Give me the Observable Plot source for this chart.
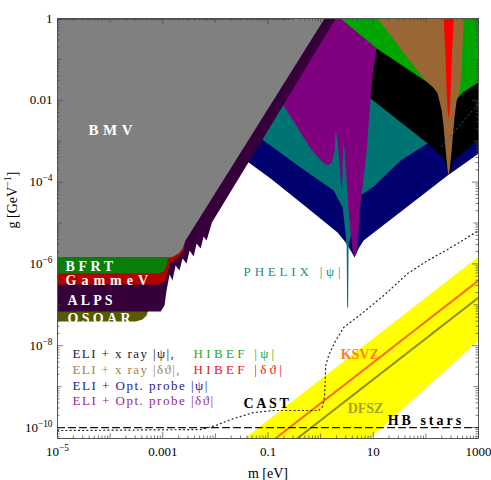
<!DOCTYPE html>
<html><head><meta charset="utf-8">
<script src="https://cdn.jsdelivr.net/npm/d3@7"></script>
<script src="https://cdn.jsdelivr.net/npm/@observablehq/plot@0.6"></script>
<style>body{margin:0;background:#fff}svg{display:block}</style>
</head><body>
<script>
// ---- exclusion regions: [m (eV), g (GeV^-1)] vertices ----
const bmv = [[1e-5,1],[1.19,1],[2.71e-3,3.73e-6],[2.38e-3,2.38e-6],[2.0e-3,1.80e-6],[1.53e-3,1.48e-6],[1e-5,1.48e-6]];
const bfrt = [[1e-5,1],[1.0,1],[2.48e-3,3.73e-6],[2.18e-3,2.25e-6],[1.67e-3,1.70e-6],[1.23e-3,1.28e-6],[1.18e-3,8.63e-7],[1.04e-3,6.52e-7],[8.32e-4,5.82e-7],[1e-5,5.82e-7]];
const gammev = [[1e-5,1],[1.0,1],[2.62e-3,3.6e-6],[2.52e-3,2.13e-6],[2.0e-3,1.43e-6],[1.41e-3,1.08e-6],[1.23e-3,6.17e-7],[1.08e-3,3.72e-7],[8.32e-4,3.13e-7],[1e-5,3.13e-7]];
const alps = [[1e-5,1],[1.95,1],[8.6e-3,1.03e-5],[6.81e-3,3.73e-6],[5.97e-3,4.68e-6],[5.24e-3,2.38e-6],[4.40e-3,3.15e-6],[3.86e-3,1.52e-6],[3.24e-3,2.13e-6],[2.83e-3,1.02e-6],[2.38e-3,1.36e-6],[2.08e-3,6.9e-7],[1.75e-3,9.1e-7],[1.53e-3,3.93e-7],[1.35e-3,5.5e-7],[1.18e-3,2.24e-7],[1.08e-3,9.6e-8],[9.1e-4,6.86e-8],[1e-5,6.86e-8]];
const osoar = [[1e-5,2.24e-7],[5.86e-4,2.24e-7],[5.37e-4,7.67e-8],[4.92e-4,5.47e-8],[4.13e-4,4.37e-8],[3.04e-4,3.91e-8],[1e-5,3.91e-8]];
const eliOptPsi = [[0.0359,3.57e-4],[0.112,1.22e-4],[0.417,3.17e-5],[2.10,5.86e-6],[2.99,3.33e-6],[3.72,2.13e-6],[4.43,1.43e-6],[5.27,2.38e-6],[6.56,3.73e-6],[259,1.45e-4],[1000,5.0e-4],[1000,1],[0.0359,1]];
const phelixPsi = [[0.0581,1.63e-3],[0.0824,1.04e-3],[0.417,2.28e-4],[1.77,6.23e-5],[2.62,2.39e-5],[2.86,8.69e-6],[3.12,2.82e-6],[3.19,8.59e-8],[3.33,8.59e-8],[3.40,2.82e-6],[3.72,4.95e-6],[4.24,1.03e-5],[4.83,2.02e-5],[5.75,4.70e-5],[10.2,7.80e-5],[33.2,3.37e-4],[108,8.79e-4],[1000,7.46e-3],[1000,1],[0.0581,1]];
const eliXrayPsi = [[1.55,0.0840],[8.93,0.0111],[108,8.79e-4],[218,3.78e-4],[259,1.92e-4],[271,1.53e-4],[296,1.92e-4],[338,3.37e-4],[1000,1.10e-3],[1000,1],[1.55,1]];
const eliOptDth = [[0.417,1],[2.51,1],[11.6,0.185],[9.75,0.0404],[8.93,0.0117],[7.50,5.93e-4],[6.28,8.26e-5],[5.51,2.02e-5],[5.27,5.86e-6],[4.83,2.13e-6],[4.43,1.43e-6],[4.06,2.13e-6],[3.72,5.86e-6],[3.40,2.02e-5],[3.12,1.09e-4],[2.86,5.93e-4],[2.74,1.04e-3],[2.62,2.55e-4],[2.51,4.20e-5],[2.30,2.55e-4],[2.10,1.04e-3],[1.93,1.83e-3],[1.85,5.93e-4],[1.62,3.01e-4],[1.36,2.55e-4],[1.09,3.01e-4],[0.646,6.64e-4],[0.198,7.46e-3],[0.112,7.46e-3]];
const hibefPsi = [[2.40,1],[11.6,0.185],[33.2,0.0750],[108,0.0272],[175,0.0155],[228,7.46e-3],[271,5.03e-3],[324,6.31e-3],[369,9.89e-3],[501,0.0155],[1000,0.0272],[1000,1]];
const hibefPsiTop = [[1e-5,1],[0.269,1],[0.269,0.92],[1e-5,0.92]];
const eliXrayDth = [[12.1,1],[21.4,0.384],[41.3,0.125],[72.9,0.0478],[108,0.0272],[135,0.0217],[167,0.0147],[200,5.64e-3],[218,2.16e-3],[238,5.93e-4],[259,1.92e-4],[271,1.45e-4],[283,1.92e-4],[309,5.93e-4],[324,1.23e-3],[353,4.25e-3],[385,9.89e-3],[440,0.0174],[480,0.0535],[501,0.290],[524,1]];
const hibefDth = [[218,1],[238,0.094],[248,0.0174],[259,5.64e-3],[271,3.6e-3],[283,5.64e-3],[296,0.0174],[309,0.094],[338,1]];
const phelixTrace = [[200,7.42e-4],[1000,8.35e-3]];
// ---- limits and models ----
const cast = [[1e-5,8.45e-11],[5.24e-3,8.93e-11],[0.0101,1.12e-10],[0.0222,1.66e-10],[0.0532,2.33e-10],[0.128,2.61e-10],[0.916,2.61e-10],[1.09,3.26e-10],[1.19,6.05e-10],[1.25,3.28e-9],[1.42,5.75e-9],[1.85,1.20e-8],[2.74,2.79e-8],[5.75,5.79e-8],[15.8,1.69e-7],[45.1,5.82e-7],[108,1.21e-6],[259,2.25e-6],[571,4.18e-6],[1000,6.56e-6]];
const hbStars = [[1e-5,1e-10],[1000,1e-10]];
const ksvz = [[0.01,3.9e-12],[1000,3.9e-7]];
const dfsz = [[0.01,1.5e-12],[1000,1.5e-7]];
const axionBand = [[0.01,1.51e-11],[1000,1.51e-6],[1000,1.34e-8],[8.55,5.4e-11],[3.16,1.7e-11]];
// ---- ticks ----
const xMajor = [1e-5,1e-3,1e-1,10,1000];
const xMajorLabels = ["10^-5","0.001","0.1","10","1000"];
const yMajor = [1,1e-2,1e-4,1e-6,1e-8,1e-10];
const yMajorLabels = ["1","0.01","10^-4","10^-6","10^-8","10^-10"];
const xMid = [1e-4,1e-2,1,100];
const yMid = [0.1,1e-3,1e-5,1e-7,1e-9];
// ---- labels ----
const labels = [
  {t:"BMV", m:3.88e-5, g:1.83e-3, c:"#ffffff", s:15, w:"bold", ls:4.5},
  {t:"BFRT", m:1.42e-5, g:8.63e-7, c:"#ffffff", s:14, w:"bold", ls:3.6},
  {t:"GammeV", m:1.42e-5, g:3.93e-7, c:"#ffffff", s:14, w:"bold", ls:5},
  {t:"ALPS", m:1.55e-5, g:1.27e-7, c:"#ffffff", s:14, w:"bold", ls:3.1},
  {t:"OSOAR", m:1.55e-5, g:4.62e-8, c:"#ffffff", s:14, w:"bold", ls:3.3},
  {t:"ELI + x ray |ψ|,", m:1.93e-5, g:6.44e-9, c:"#222222", s:13, w:"normal", ls:1.4},
  {t:"ELI + x ray |δϑ|,", m:1.93e-5, g:2.62e-9, c:"#a57e55", s:13, w:"normal", ls:1.4},
  {t:"ELI + Opt. probe |ψ|", m:1.93e-5, g:1.06e-9, c:"#1c1c8e", s:13, w:"normal", ls:1.5},
  {t:"ELI + Opt. probe |δϑ|", m:1.93e-5, g:4.57e-10, c:"#962896", s:13, w:"normal", ls:1.5},
  {t:"HIBEF |ψ|", m:3.86e-3, g:6.44e-9, c:"#22aa22", s:13, w:"normal", ls:3.3},
  {t:"HIBEF |δϑ|", m:3.86e-3, g:2.62e-9, c:"#ee1111", s:13, w:"normal", ls:3.3},
  {t:"PHELIX |ψ|", m:0.0344, g:6.52e-7, c:"#2a8a8a", s:13, w:"normal", ls:3.8},
  {t:"CAST", m:0.0344, g:3.97e-10, c:"#000000", s:14, w:"bold", ls:2.6},
  {t:"HB stars", m:18.8, g:1.48e-10, c:"#000000", s:14, w:"bold", ls:3},
  {t:"KSVZ", m:2.40, g:6.1e-9, c:"#ff8020", s:14, w:"bold", ls:0},
  {t:"DFSZ", m:3.26, g:3.0e-10, c:"#a3a332", s:14, w:"bold", ls:0}
];

const X0 = 1e-5, X1 = 1000, Y0 = 5.4e-11, Y1 = 1;
const region = (pts, color) => Plot.line(pts, {x: d => d[0], y: d => d[1], fill: color, stroke: "none", curve: "linear", clip: true});
const minors = (lo, hi) => { const o = []; for (let e = Math.floor(Math.log10(lo)); e <= Math.ceil(Math.log10(hi)); e++) for (let k = 2; k <= 9; k++) { const v = k * 10 ** e; if (v > lo * 1.0001 && v < hi / 1.0001) o.push(v); } return o; };
const fy = len => 10 ** (len / 40.9), fx = len => 10 ** (len / 52.6);
const tickStyle = {stroke: "#444", strokeWidth: 0.7};
const xT = (vals, len) => [
  Plot.ruleX(vals, {x: d => d, y1: () => Y0, y2: () => Y0 * fy(len), ...tickStyle}),
  Plot.ruleX(vals, {x: d => d, y1: () => Y1, y2: () => Y1 / fy(len), ...tickStyle})];
const yT = (vals, len) => [
  Plot.ruleY(vals, {y: d => d, x1: () => X0, x2: () => X0 * fx(len), ...tickStyle}),
  Plot.ruleY(vals, {y: d => d, x1: () => X1, x2: () => X1 / fx(len), ...tickStyle})];
const lab = (vals, labs) => d => labs[vals.findIndex(v => Math.abs(Math.log10(v) - Math.log10(d)) < 1e-6)];

const chart = Plot.plot({
  width: 491, height: 480,
  marginLeft: 57, marginRight: 13, marginTop: 18, marginBottom: 42,
  style: {fontFamily: "'Liberation Serif','Times New Roman',serif", fontSize: "13px", background: "#fff"},
  x: {type: "log", domain: [X0, X1]},
  y: {type: "log", domain: [Y0, Y1]},
  marks: [
    region(axionBand, "#ffff00"),
    region(eliOptPsi, "#00006e"),
    region(phelixPsi, "#007373"),
    region(eliXrayPsi, "#000000"),
    region(eliOptDth, "#800080"),
    region(hibefPsi, "#00a600"),
    region(eliXrayDth, "#9a6633"),
    region(hibefDth, "#ff0000"),
    region(osoar, "#595900"),
    region(alps, "#36003a"),
    region(gammev, "#b40000"),
    region(bfrt, "#0a7d0a"),
    region(bmv, "#808080"),
    region(hibefPsiTop, "#1f7a1f"),
    Plot.line(phelixTrace, {x: d => d[0], y: d => d[1], stroke: "#0a6a6a", strokeWidth: 1, strokeDasharray: "1.5,3", clip: true}),
    Plot.line(ksvz, {x: d => d[0], y: d => d[1], stroke: "#ff6a1a", strokeWidth: 2, clip: true}),
    Plot.line(dfsz, {x: d => d[0], y: d => d[1], stroke: "#8f8f1e", strokeWidth: 2, clip: true}),
    Plot.line(cast, {x: d => d[0], y: d => d[1], stroke: "#222", strokeWidth: 1.2, strokeDasharray: "1,3.2", strokeLinecap: "round", clip: true}),
    Plot.line(hbStars, {x: d => d[0], y: d => d[1], stroke: "#111", strokeWidth: 1.2, strokeDasharray: "7,4", clip: true}),
    ...labels.map(l => Plot.text([l], {x: "m", y: "g", text: "t", fill: l.c, fontSize: l.s, fontWeight: l.w, textAnchor: "start", lineAnchor: "middle"})),
    Plot.frame({stroke: "#555", strokeWidth: 1}),
    ...xT(xMajor, 6), ...xT(xMid, 4.5), ...xT(minors(X0, X1), 2.5),
    ...yT(yMajor, 6), ...yT(yMid, 4.5), ...yT(minors(Y0, Y1), 2.5),
    Plot.axisX(xMajor, {tickSize: 0, tickPadding: 8, fontSize: 13, tickFormat: lab(xMajor, xMajorLabels), label: null}),
    Plot.axisY(yMajor, {tickSize: 0, tickPadding: 5, fontSize: 13, tickFormat: lab(yMajor, yMajorLabels), label: null}),
    Plot.text(["m [eV]"], {frameAnchor: "bottom", dy: 35, text: d => d, fontSize: 14, lineAnchor: "middle"}),
    Plot.text(["g [GeV^-1]"], {frameAnchor: "left", dx: -45, rotate: -90, text: d => d, fontSize: 14, lineAnchor: "middle"})
  ]
});

// superscripts and letter spacing
const NS = "http://www.w3.org/2000/svg";
const lsMap = new Map(labels.map(l => [l.t, l.ls]));
chart.querySelectorAll("text").forEach(t => {
  const s = t.textContent;
  if (lsMap.has(s) && lsMap.get(s)) t.setAttribute("letter-spacing", lsMap.get(s));
  const mt = s.match(/^(.*?)\^([-−]?\d+)(.*)$/);
  if (!mt) return;
  t.textContent = "";
  const a = document.createElementNS(NS, "tspan"); a.textContent = mt[1]; t.appendChild(a);
  const b = document.createElementNS(NS, "tspan"); b.textContent = mt[2].replace("-", "\u2212");
  b.setAttribute("dy", "-0.55em"); b.setAttribute("font-size", "0.72em"); t.appendChild(b);
  if (mt[3]) { const c = document.createElementNS(NS, "tspan"); c.textContent = mt[3]; c.setAttribute("dy", "0.396em"); t.appendChild(c); }
});
document.body.appendChild(chart);
</script>
</body></html>
